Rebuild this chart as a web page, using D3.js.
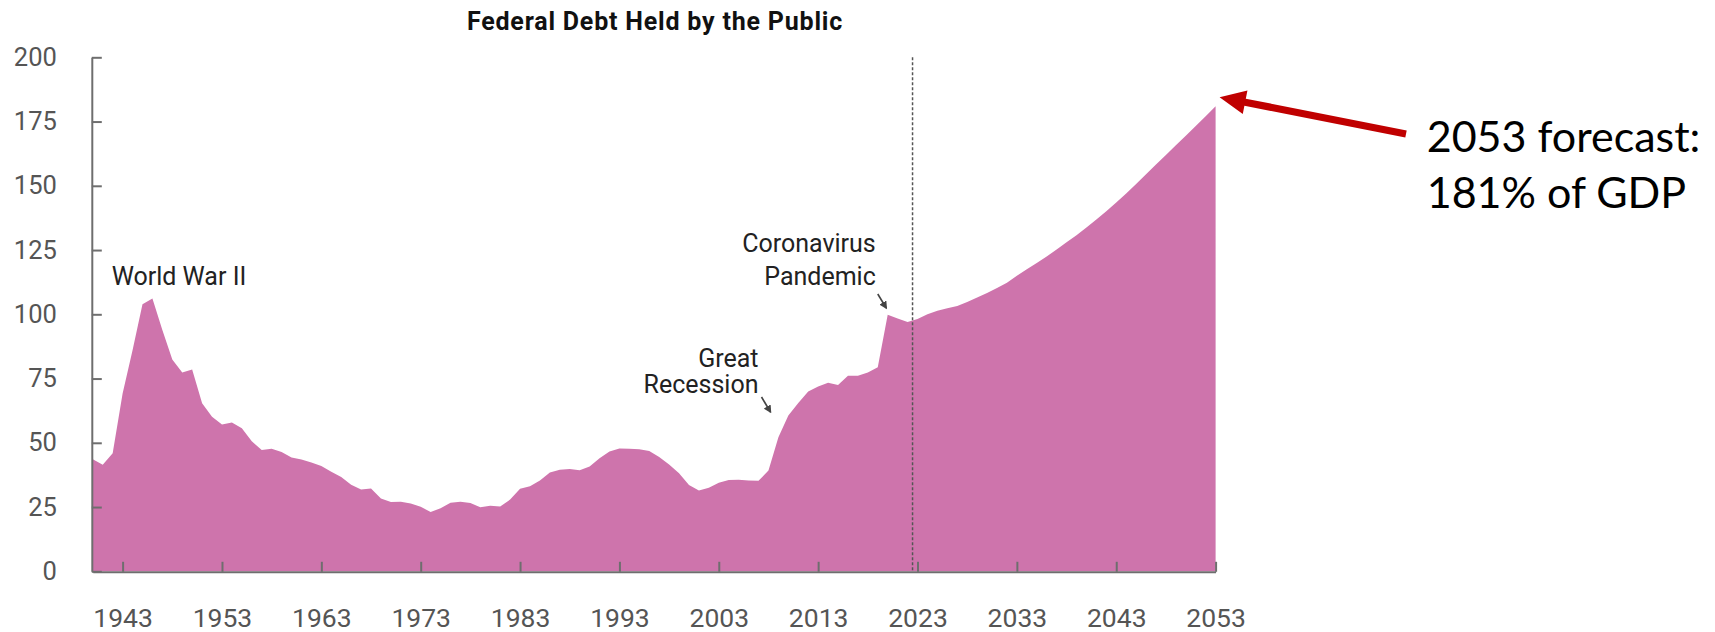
<!DOCTYPE html>
<html>
<head>
<meta charset="utf-8">
<script src="https://cdn.jsdelivr.net/npm/d3@7"></script>
<style>
  html, body { margin: 0; padding: 0; background: #fff; }
  svg { display: block; }
</style>
</head>
<body>
<svg id="chart" width="1715" height="632"></svg>
<script>
// Federal debt held by the public, percent of GDP (actual through 2022, projected to 2053)
const years = d3.range(1940, 2054);
const debtPct = [
  43.6, 41.5, 45.9, 69.2, 86.0, 103.9, 106.1, 93.9, 82.4, 77.4,   // 1940-1949
  78.5, 65.4, 60.1, 57.1, 57.9, 55.7, 50.6, 47.2, 47.7, 46.4,     // 1950-1959
  44.3, 43.5, 42.3, 41.0, 38.7, 36.7, 33.7, 31.8, 32.2, 28.3,     // 1960-1969
  27.0, 27.1, 26.4, 25.1, 23.1, 24.5, 26.7, 27.1, 26.6, 24.9,     // 1970-1979
  25.5, 25.2, 27.9, 32.1, 33.1, 35.3, 38.4, 39.5, 39.8, 39.3,     // 1980-1989
  40.8, 44.0, 46.6, 47.8, 47.7, 47.5, 46.8, 44.5, 41.6, 38.2,     // 1990-1999
  33.6, 31.4, 32.5, 34.5, 35.5, 35.6, 35.3, 35.2, 39.2, 52.2,     // 2000-2009
  60.6, 65.5, 70.0, 71.9, 73.4, 72.5, 76.1, 76.1, 77.4, 79.4,     // 2010-2019
  99.8, 98.4, 97.0, 98.2, 100.0, 101.4, 102.4, 103.2, 104.8, 106.5, // 2020-2029
  108.3, 110.2, 112.3, 115.0, 117.5, 120.0, 122.5, 125.2, 128.0, 130.8, // 2030-2039
  133.8, 136.9, 140.1, 143.5, 147.0, 150.7, 154.5, 158.3, 162.0, 165.8, // 2040-2049
  169.5, 173.3, 177.1, 181.0                                      // 2050-2053
];
const xTicks = [1943, 1953, 1963, 1973, 1983, 1993, 2003, 2013, 2023, 2033, 2043, 2053];
const yTicks = [0, 25, 50, 75, 100, 125, 150, 175, 200];
const projectionStart = 2022.5;

const notes = [
  { lines: ["World War II"], year: 1941.9, baselines: [285], anchor: "start" },
  { lines: ["Great", "Recession"], year: 2007.0, baselines: [366.7, 392.7], anchor: "end",
    arrow: { from: [2007.3, 397], to: [2008.2, 412] } },
  { lines: ["Coronavirus", "Pandemic"], year: 2018.8, baselines: [251.7, 285], anchor: "end",
    arrow: { from: [2019.0, 294], to: [2019.85, 308] } }
];
const forecastYear = 2053;
const forecastValue = 181;
const forecastLines = ["2053 forecast:", "181% of GDP"];

const svg = d3.select("#chart");

const x = d3.scaleLinear().domain([1940, 2053]).range([92.8, 1215.6]);
const y = d3.scaleLinear().domain([0, 200]).range([571.3, 57.3]);

const data = years.map((yr, i) => ({ year: yr, value: debtPct[i] }));

// Filled area
const area = d3.area()
  .x(d => x(d.year))
  .y0(y(0))
  .y1(d => y(d.value))
  .curve(d3.curveLinear);

svg.append("path")
  .datum(data)
  .attr("d", area)
  .attr("fill", "#CE74AC");

// Dashed divider between actual and projected values
svg.append("line")
  .attr("x1", x(projectionStart)).attr("x2", x(projectionStart))
  .attr("y1", y(200)).attr("y2", y(0))
  .attr("stroke", "#555")
  .attr("stroke-width", 1.5)
  .attr("stroke-dasharray", "3,2");

// Axes
const axisColor = "#6e6e6e";
const labelColor = "#555";

const yAxis = svg.append("g")
  .attr("transform", `translate(${x(1940) - 1},0)`)
  .call(d3.axisLeft(y).tickValues(yTicks).tickSizeInner(-10).tickSizeOuter(0).tickPadding(35));

const xAxis = svg.append("g")
  .attr("transform", `translate(0,${y(0) + 0.5})`)
  .call(d3.axisBottom(x).tickValues(xTicks).tickFormat(d3.format("d")).tickSizeInner(-10).tickSizeOuter(0));

[yAxis, xAxis].forEach(g => {
  g.select(".domain").attr("stroke", axisColor).attr("stroke-width", 2);
  g.selectAll(".tick line").attr("stroke", axisColor).attr("stroke-width", 2);
  g.selectAll(".tick text")
    .attr("fill", labelColor)
    .style("font-family", "Roboto, sans-serif");
});
yAxis.selectAll(".tick text").style("font-size", "25.5px");
xAxis.selectAll(".tick text")
  .style("font-size", "26.5px")
  .attr("y", 55.5)
  .attr("dy", null);

// Title
svg.append("text")
  .attr("x", 655).attr("y", 30)
  .attr("text-anchor", "middle")
  .style("font-family", "Roboto, sans-serif")
  .style("font-weight", "700")
  .style("font-size", "25px")
  .style("letter-spacing", "0.8px")
  .attr("fill", "#111")
  .text("Federal Debt Held by the Public");

// Event annotations
const defs = svg.append("defs");
defs.append("marker")
  .attr("id", "smallHead")
  .attr("viewBox", "0 0 10 10")
  .attr("refX", 8).attr("refY", 5)
  .attr("markerWidth", 5).attr("markerHeight", 5)
  .attr("orient", "auto")
  .append("path")
  .attr("d", "M0,0 L10,5 L0,10 Z")
  .attr("fill", "#444");

notes.forEach(n => {
  const t = svg.append("text")
    .attr("text-anchor", n.anchor)
    .style("font-family", "Roboto, sans-serif")
    .style("font-size", "25px")
    .attr("fill", "#222");
  n.lines.forEach((ln, i) => {
    t.append("tspan").attr("x", x(n.year)).attr("y", n.baselines[i]).text(ln);
  });
  if (n.arrow) {
    svg.append("line")
      .attr("x1", x(n.arrow.from[0])).attr("y1", n.arrow.from[1])
      .attr("x2", x(n.arrow.to[0])).attr("y2", n.arrow.to[1])
      .attr("stroke", "#444")
      .attr("stroke-width", 1.6)
      .attr("marker-end", "url(#smallHead)");
  }
});

// Forecast call-out with red arrow pointing at the 2053 value
const tip = [x(forecastYear) + 4, y(forecastValue) - 9];
const tail = [1406, 134];
const dx = tail[0] - tip[0], dy = tail[1] - tip[1];
const len = Math.hypot(dx, dy);
const ux = dx / len, uy = dy / len;      // unit vector toward the tail
const px = -uy, py = ux;                  // perpendicular
const headLen = 26, headHalf = 12, shaftHalf = 3.6;
const base = [tip[0] + ux * headLen, tip[1] + uy * headLen];
const pts = [
  tip,
  [base[0] + px * headHalf, base[1] + py * headHalf],
  [base[0] + px * shaftHalf, base[1] + py * shaftHalf],
  [tail[0] + px * shaftHalf, tail[1] + py * shaftHalf],
  [tail[0] - px * shaftHalf, tail[1] - py * shaftHalf],
  [base[0] - px * shaftHalf, base[1] - py * shaftHalf],
  [base[0] - px * headHalf, base[1] - py * headHalf]
];
svg.append("path")
  .attr("d", d3.line()(pts) + "Z")
  .attr("fill", "#C00000");

const ft = svg.append("text")
  .style("font-family", "Lato, 'Open Sans', sans-serif")
  .style("font-size", "43px")
  .attr("fill", "#000");
forecastLines.forEach((ln, i) => {
  ft.append("tspan").attr("x", 1426.7).attr("y", 152.3 + i * 56).text(ln);
});
</script>
</body>
</html>
